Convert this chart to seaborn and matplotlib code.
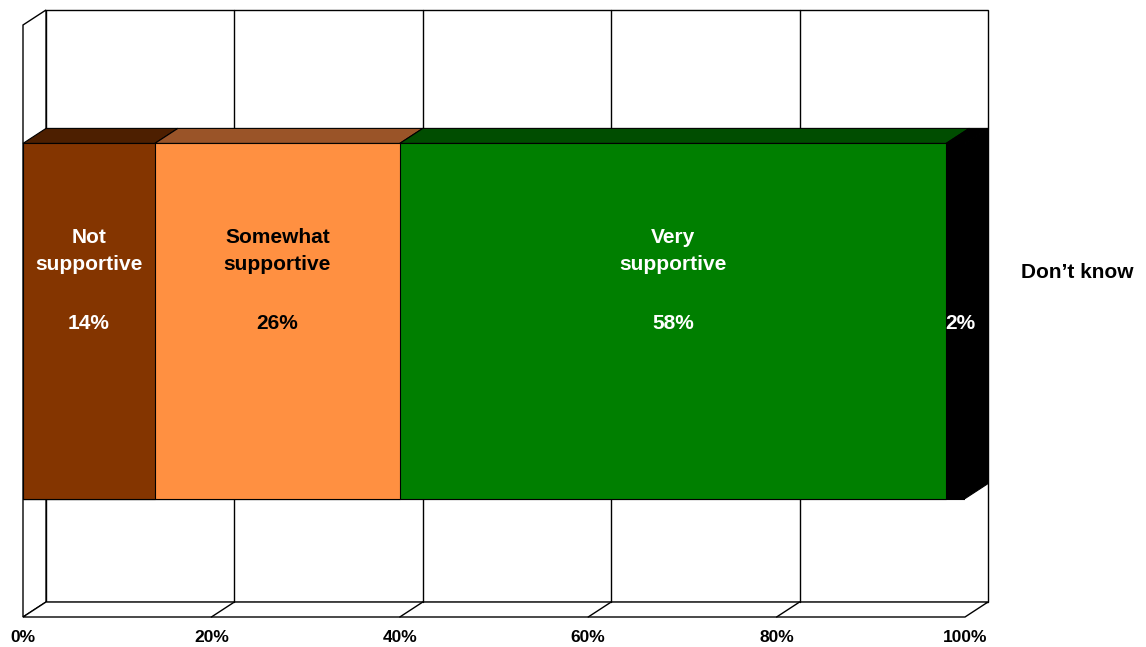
import matplotlib
matplotlib.use("Agg")
import matplotlib.pyplot as plt
from matplotlib.patches import Polygon
import seaborn as sns
import pandas as pd
import numpy as np

# Survey responses, share of respondents (%)
categories = ["Not\nsupportive", "Somewhat\nsupportive", "Very\nsupportive", "Don\u2019t know"]
values = [14, 26, 58, 2]
front_colors = ["#843500", "#FF9041", "#007F00", "#000000"]
top_colors = ["#4D1F00", "#9A5428", "#004D00", "#000000"]
text_colors = ["white", "black", "white", "white"]
tick_values = [0, 20, 40, 60, 80, 100]
tick_labels = ["0%", "20%", "40%", "60%", "80%", "100%"]

sns.set_theme(style="white")
plt.rcParams["font.family"] = ["Liberation Sans", "DejaVu Sans"]
plt.rcParams["font.weight"] = "bold"

W, H = 1146, 647
fig = plt.figure(figsize=(W / 100, H / 100), dpi=100)
ax = fig.add_axes([23 / W, 30 / H, 942 / W, 592 / H])

# depth of the pseudo-3D box, in data units
DX = 23 / 942 * 100
DY = 15 / 592
BAR_H = 0.6

starts = np.concatenate([[0], np.cumsum(values)[:-1]])
ends = np.cumsum(values)

# stacked front faces: draw cumulative totals from the largest down
for i in reversed(range(len(values))):
    df = pd.DataFrame({"group": ["all"], "total": [ends[i]]})
    sns.barplot(data=df, x="total", y="group", orient="h", color=front_colors[i],
                saturation=1, width=BAR_H, edgecolor="black", linewidth=0.8,
                ax=ax, zorder=2)

ax.set_xlim(0, 100)
ax.set_ylim(-0.5, 0.5)

def poly(pts, fc, ec="black", lw=1.0, z=1):
    ax.add_patch(Polygon(pts, closed=True, facecolor=fc, edgecolor=ec,
                         linewidth=lw, zorder=z, clip_on=False))

# walls and floor of the box
poly([(DX, -0.5 + DY), (100 + DX, -0.5 + DY), (100 + DX, 0.5 + DY), (DX, 0.5 + DY)], "white", z=0.5)
poly([(0, -0.5), (DX, -0.5 + DY), (DX, 0.5 + DY), (0, 0.5)], "white", z=0.6)
poly([(0, -0.5), (100, -0.5), (100 + DX, -0.5 + DY), (DX, -0.5 + DY)], "white", z=0.6)
for t in tick_values[1:-1]:
    ax.plot([t + DX, t + DX], [-0.5 + DY, 0.5 + DY], color="black", lw=1.0, zorder=0.7, clip_on=False)
    ax.plot([t, t + DX], [-0.5, -0.5 + DY], color="black", lw=1.0, zorder=0.7, clip_on=False)

# top faces of each segment and the right-hand end face
top = BAR_H / 2
for s, e, c in zip(starts, ends, top_colors):
    poly([(s, top), (e, top), (e + DX, top + DY), (s + DX, top + DY)], c, lw=0.8, z=3)
poly([(100, -top), (100, top), (100 + DX, top + DY), (100 + DX, -top + DY)], top_colors[-1], lw=0.8, z=3)

# segment labels
label_font = dict(fontsize=15, fontweight="bold", ha="center", va="center", zorder=5)
for i, (s, v) in enumerate(zip(starts, values)):
    cx = s + v / 2
    if i < len(values) - 1:
        ax.text(cx, 0.118, categories[i], color=text_colors[i], linespacing=1.55, **label_font)
    ax.text(cx + (0.5 if v < 5 else 0), -0.004, f"{v}%", color=text_colors[i], **label_font)

fig.text(1077 / W, 1 - 272 / H, categories[-1], fontsize=15, fontweight="bold",
         ha="center", va="center", color="black")

ax.set_xticks(tick_values)
ax.set_xticklabels(tick_labels, fontsize=12.5, fontweight="bold", color="black")
ax.set_yticks([])
ax.set_xlabel("")
ax.set_ylabel("")
ax.tick_params(axis="x", length=0, pad=9)
for sp in ax.spines.values():
    sp.set_visible(False)
ax.patch.set_visible(False)

fig.savefig("out.png", dpi=100)
